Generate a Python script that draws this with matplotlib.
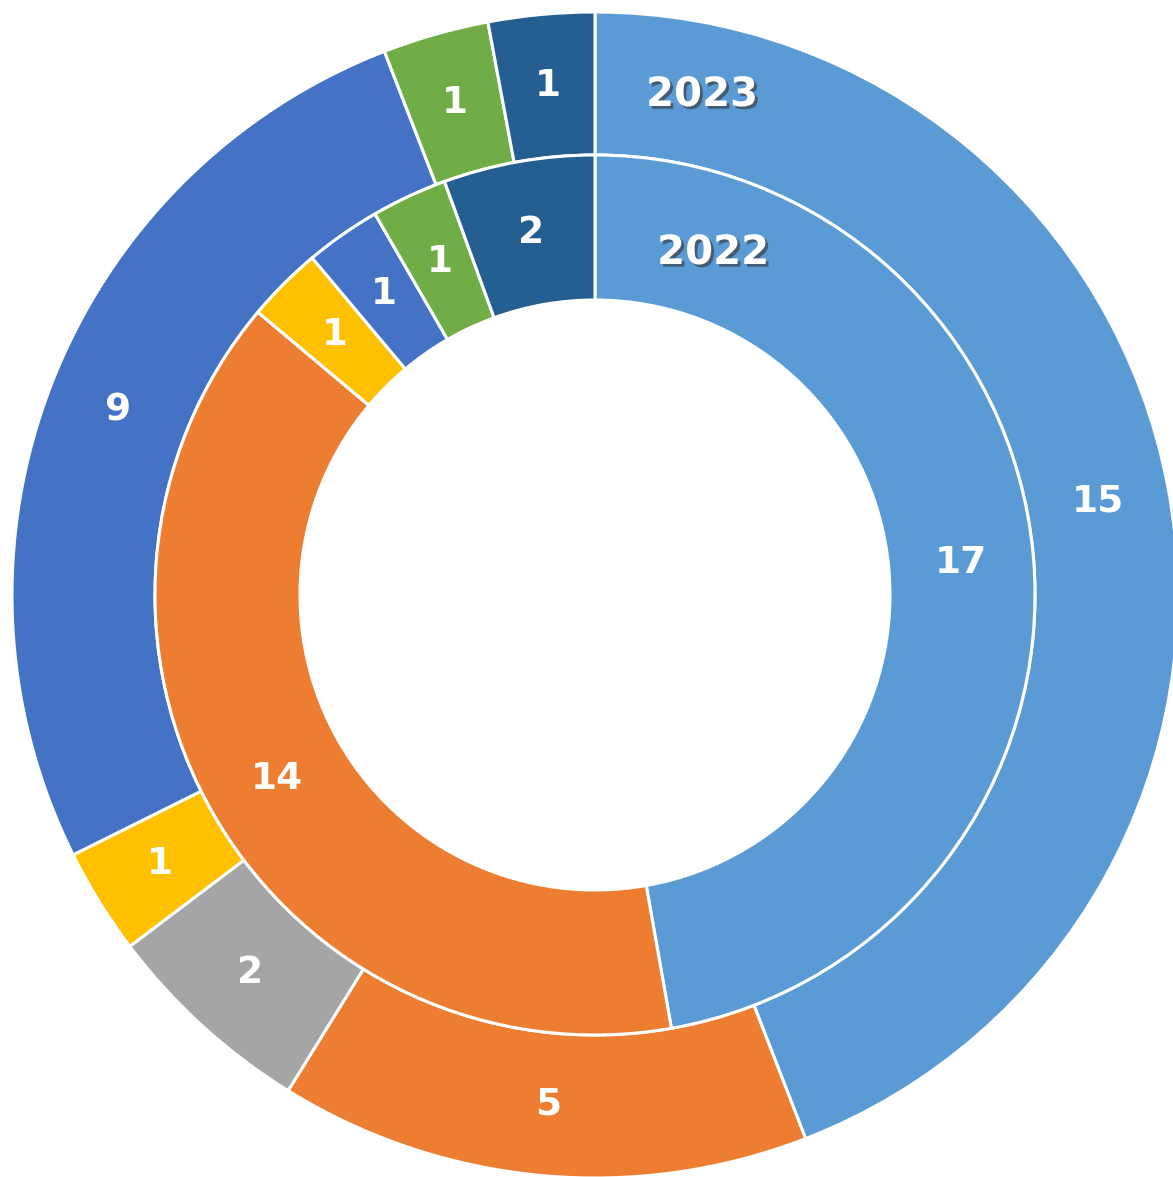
import matplotlib.pyplot as plt
import matplotlib.patheffects as pe

# data
colors = ['#5B9BD5', '#ED7D31', '#A5A5A5', '#FFC000', '#4472C4', '#70AD47', '#255E91']
vals_2023 = [15, 5, 2, 1, 9, 1, 1]
vals_2022 = [17, 14, 0, 1, 1, 1, 2]

W, H = 1173, 1177
cx, cy = 595, 595
r_out, r_mid, r_in = 583, 440, 295

fig = plt.figure(figsize=(W / 100, H / 100), dpi=100)
ax = fig.add_axes([0, 0, 1, 1])
ax.set_aspect('equal')
ax.axis('off')

wp = dict(edgecolor='white', linewidth=2.2)
tp = dict(color='white', fontsize=27, fontweight='bold', family='DejaVu Sans')

ax.pie(vals_2023, radius=r_out, colors=colors, startangle=90, counterclock=False,
       wedgeprops=dict(width=r_out - r_mid, **wp),
       labels=[str(v) if v else '' for v in vals_2023], labeldistance=(r_out + r_mid) / 2 / r_out,
       textprops=dict(ha='center', va='center', **tp))

ax.pie(vals_2022, radius=r_mid, colors=colors, startangle=90, counterclock=False,
       wedgeprops=dict(width=r_mid - r_in, **wp),
       labels=[str(v) if v else '' for v in vals_2022], labeldistance=(r_mid + r_in) / 2 / r_mid,
       textprops=dict(ha='center', va='center', **tp))

shadow = [pe.SimplePatchShadow(offset=(2, -2), shadow_rgbFace='#333333', alpha=0.6), pe.Normal()]
ax.text(702 - cx, cy - 95, '2023', ha='center', va='center', color='white',
        fontsize=29, fontweight='bold', family='DejaVu Sans', path_effects=shadow)
ax.text(713 - cx, cy - 253, '2022', ha='center', va='center', color='white',
        fontsize=29, fontweight='bold', family='DejaVu Sans', path_effects=shadow)

ax.set_xlim(-cx, W - cx)
ax.set_ylim(-(H - cy), cy)

fig.savefig('out.png', dpi=100)
